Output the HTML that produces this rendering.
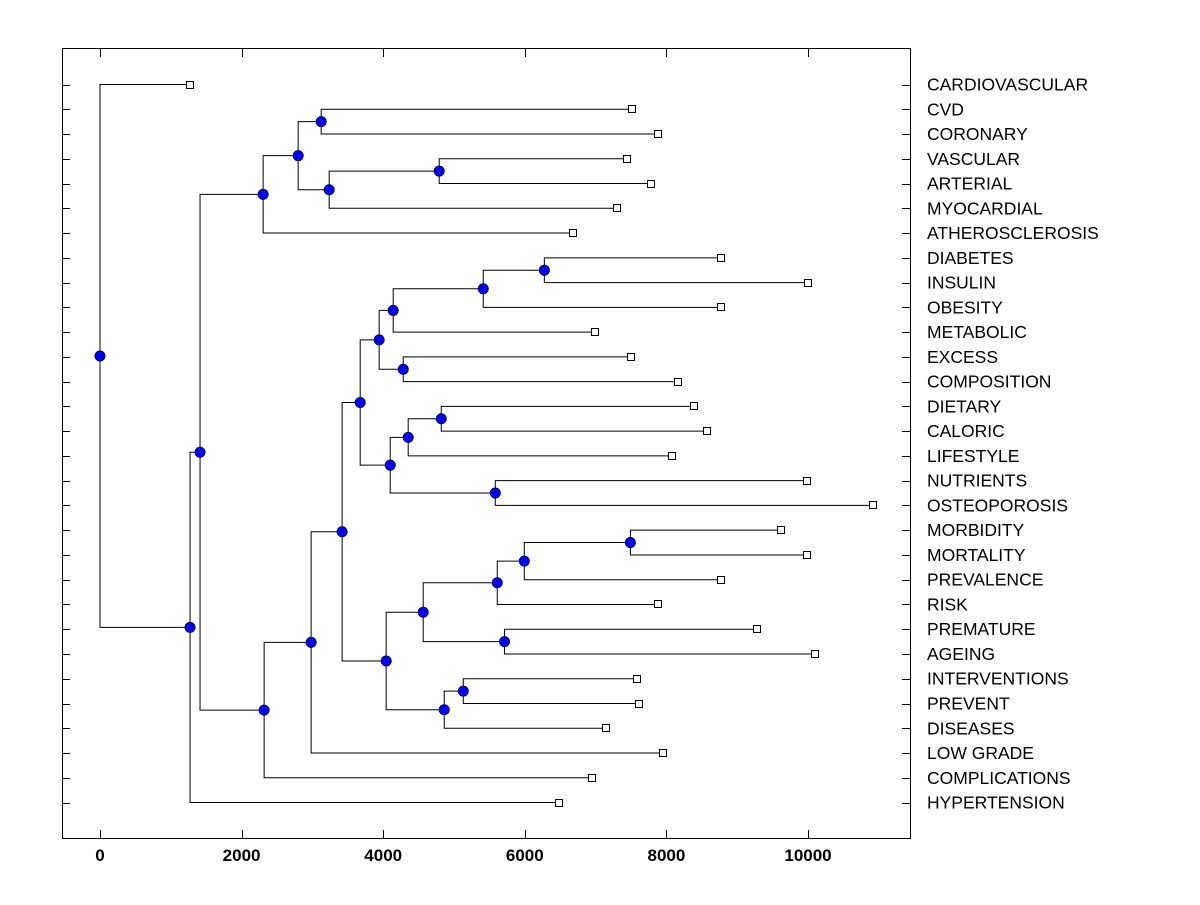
<!DOCTYPE html>
<html><head><meta charset="utf-8"><style>
body{margin:0;background:#fff;width:1200px;height:900px;overflow:hidden}
text{font-family:"Liberation Sans",Arial,sans-serif}
</style></head><body>
<svg id="chart" width="1200" height="900" xmlns="http://www.w3.org/2000/svg">
<rect x="62.5" y="48.5" width="848" height="790" fill="none" stroke="#000" stroke-width="1"/>
<g id="axes"></g><g id="links"></g><g id="marks"></g><g id="labels"></g>
</svg>
<script>
const leafLabels=["CARDIOVASCULAR","CVD","CORONARY","VASCULAR","ARTERIAL","MYOCARDIAL","ATHEROSCLEROSIS","DIABETES","INSULIN","OBESITY","METABOLIC","EXCESS","COMPOSITION","DIETARY","CALORIC","LIFESTYLE","NUTRIENTS","OSTEOPOROSIS","MORBIDITY","MORTALITY","PREVALENCE","RISK","PREMATURE","AGEING","INTERVENTIONS","PREVENT","DISEASES","LOW GRADE","COMPLICATIONS","HYPERTENSION"];
const leafValues=[1272,7519,7887,7449,7788,7307,6685,8777,10007,8777,6996,7505,8170,8396,8580,8085,9979,10912,9625,9979,8777,7887,9286,10092,7590,7618,7152,7958,6954,6488];
// internal nodes: [childA, childB]; leaves are "L<i>", nodes "N<i>"
const nodeChildren=[["L1","L2"],["L3","L4"],["N1","L5"],["N0","N2"],["N3","L6"],["L7","L8"],["N5","L9"],["N6","L10"],["L11","L12"],["N7","N8"],["L13","L14"],["N10","L15"],["L16","L17"],["N11","N12"],["N9","N13"],["L18","L19"],["N15","L20"],["N16","L21"],["L22","L23"],["N17","N18"],["L24","L25"],["N20","L26"],["N19","N21"],["N14","N22"],["N23","L27"],["N24","L28"],["N4","N25"],["N26","L29"],["L0","N27"]];
const nodeValues=[3124,4791,3237,2799,2304,6276,5413,4141,4283,3943,4820,4353,5583,4099,3675,7491,5993,5611,5713,4565,5131,4862,4042,3420,2982,2318,1413,1272,0];
const xTicks=[0,2000,4000,6000,8000,10000];

const NS="http://www.w3.org/2000/svg";
const X=v=>100+v*0.0708;
const rowY=i=>84.5+i*24.76;
function mk(tag,attrs,parent){const e=document.createElementNS(NS,tag);for(const k in attrs)e.setAttribute(k,attrs[k]);document.getElementById(parent).appendChild(e);return e;}
const axes="axes";
xTicks.forEach(t=>{
  const x=Math.round(X(t))+0.5;
  let e=mk("line",{x1:x,x2:x,y1:838,y2:830,stroke:"#000"},axes);
  
  
  e=mk("line",{x1:x,x2:x,y1:49,y2:57,stroke:"#000"},axes);
  
  
  e=mk("text",{x:X(t),y:861,"text-anchor":"middle","font-size":"17","font-weight":"bold"},axes);
  e.textContent=t;
  
  
});
leafLabels.forEach((lab,i)=>{
  const y=Math.round(rowY(i))+0.5;
  let e=mk("line",{x1:62,x2:70,y1:y,y2:y,stroke:"#000"},axes);
  
  
  e=mk("line",{x1:902,x2:910,y1:y,y2:y,stroke:"#000"},axes);
  
  
  e=mk("text",{x:927,y:rowY(i)+6,"font-size":"17.5"},"labels");
  e.textContent=lab;
  
  
});
const pos={};
leafValues.forEach((v,i)=>{pos["L"+i]={x:X(v),y:rowY(i)};});
nodeValues.forEach((v,i)=>{
  const [a,b]=nodeChildren[i];const pa=pos[a],pb=pos[b];
  const x=X(v),y=(pa.y+pb.y)/2;pos["N"+i]={x,y};
  let e=mk("path",{d:`M${pa.x},${pa.y}H${x}V${pb.y}H${pb.x}`,fill:"none",stroke:"#000","stroke-width":"1"},"links");
  
  
});
leafValues.forEach((v,i)=>{
  const p=pos["L"+i];
  const e=mk("rect",{x:Math.round(p.x)-3.5,y:Math.round(p.y)-3.5,width:7,height:7,fill:"#fff",stroke:"#000"},"marks");
  
  
});
nodeValues.forEach((v,i)=>{
  const p=pos["N"+i];
  const e=mk("circle",{cx:p.x,cy:p.y,r:5,fill:"#0000ff",stroke:"#000040"},"marks");
  
  
});
</script>
</body></html>
